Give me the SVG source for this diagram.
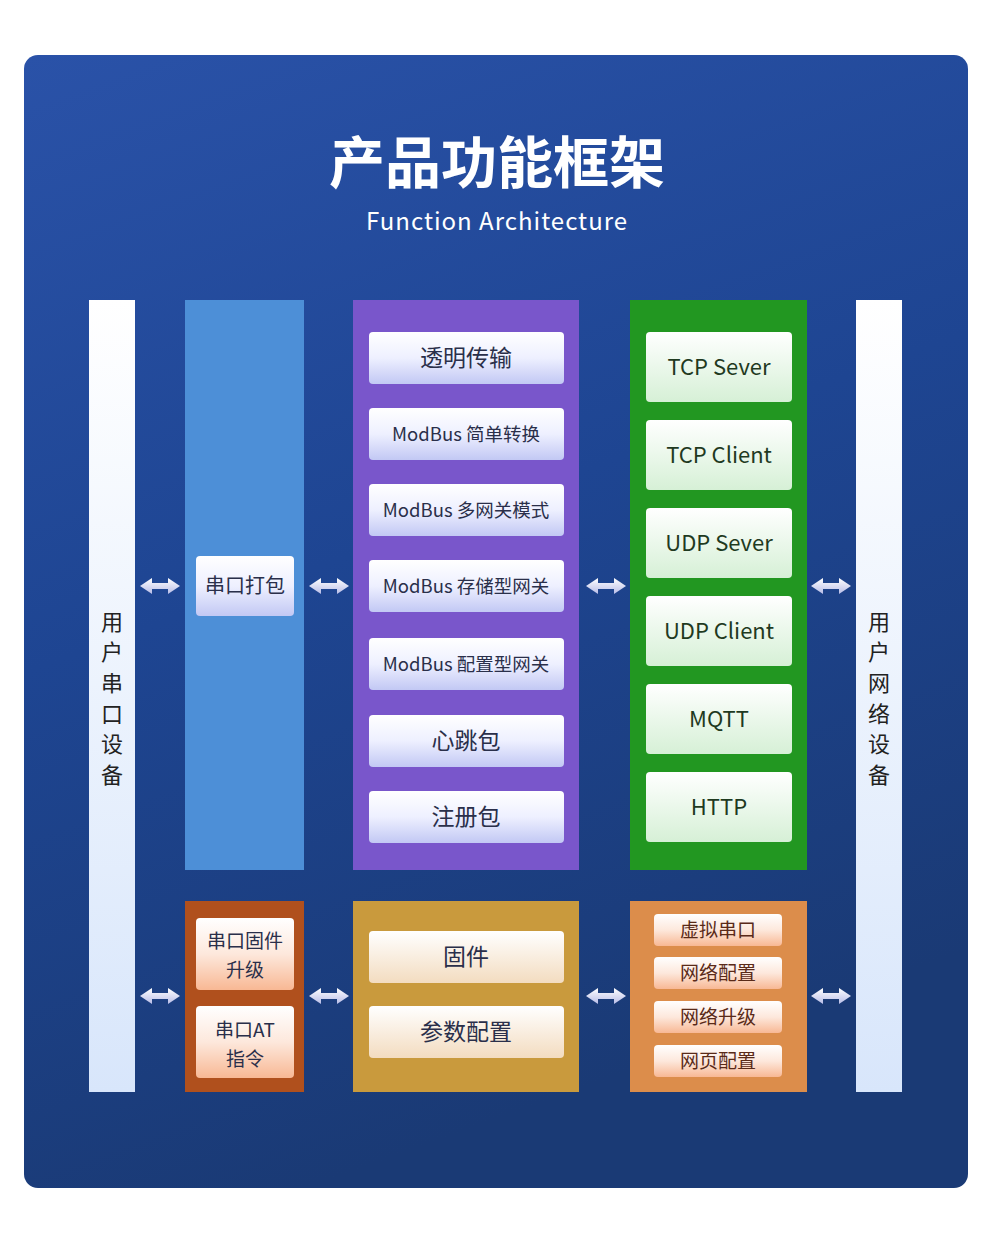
<svg xmlns="http://www.w3.org/2000/svg" width="1000" height="1243" viewBox="0 0 1000 1243">
<defs>
<linearGradient id="bg" x1="0" y1="0" x2="0.3" y2="1"><stop offset="0" stop-color="#2a52a8"/><stop offset="0.5" stop-color="#1e4592"/><stop offset="1" stop-color="#1a3a75"/></linearGradient>
<linearGradient id="side" x1="0" y1="0" x2="0" y2="1"><stop offset="0" stop-color="#ffffff"/><stop offset="1" stop-color="#d8e6fb"/></linearGradient>
<linearGradient id="bw" x1="0" y1="0" x2="0" y2="1"><stop offset="0" stop-color="#ffffff"/><stop offset="0.5" stop-color="#eef0ff"/><stop offset="1" stop-color="#c2c8f4"/></linearGradient>
<linearGradient id="gw" x1="0" y1="0" x2="0" y2="1"><stop offset="0" stop-color="#ffffff"/><stop offset="1" stop-color="#d6f0d6"/></linearGradient>
<linearGradient id="ow" x1="0" y1="0" x2="0" y2="1"><stop offset="0" stop-color="#ffffff"/><stop offset="0.5" stop-color="#fde8dc"/><stop offset="1" stop-color="#f8b894"/></linearGradient>
<linearGradient id="yw" x1="0" y1="0" x2="0" y2="1"><stop offset="0" stop-color="#ffffff"/><stop offset="1" stop-color="#f3dcc0"/></linearGradient>
<linearGradient id="aw" x1="0" y1="0" x2="0" y2="1"><stop offset="0" stop-color="#ffffff"/><stop offset="1" stop-color="#b8bde8"/></linearGradient>
<g id="arr"><path d="M0 0 L12 -8 L12 -3 L28 -3 L28 -8 L40 0 L28 8 L28 3 L12 3 L12 8 Z" fill="url(#aw)"/></g>
</defs>
<style>
text{font-family:"Noto Sans CJK SC","Noto Sans",sans-serif;text-anchor:middle}
.t{fill:#2a2f4a;font-size:20px}
.s{fill:#2a2f4a;font-size:19px}
.m{fill:#2a2f4a;font-size:18.5px}
.tl{fill:#2a2f4a;font-size:23px}
.g{fill:#1f3a1f;font-size:22px}
.o{fill:#5a2a18;font-size:19px}
.v{fill:#222;font-size:22px}
.b{rx:4}
</style>
<rect width="1000" height="1243" fill="#ffffff"/>
<rect x="24" y="55" width="944" height="1133" rx="14" fill="url(#bg)"/>
<text x="497" y="183" font-size="56" font-weight="bold" fill="#fff">产品功能框架</text>
<text x="497" y="230" font-size="24" fill="#fff" letter-spacing="1">Function Architecture</text>

<g id="left-device"><rect x="89" y="300" width="46" height="792" fill="url(#side)"/>
<text class="v" x="112" y="630">用</text><text class="v" x="112" y="660">户</text><text class="v" x="112" y="691">串</text><text class="v" x="112" y="722">口</text><text class="v" x="112" y="752">设</text><text class="v" x="112" y="783">备</text></g>
<g id="right-device"><rect x="856" y="300" width="46" height="792" fill="url(#side)"/>
<text class="v" x="879" y="630">用</text><text class="v" x="879" y="660">户</text><text class="v" x="879" y="691">网</text><text class="v" x="879" y="722">络</text><text class="v" x="879" y="752">设</text><text class="v" x="879" y="783">备</text></g>

<g id="serial-pack"><rect x="185" y="300" width="119" height="570" fill="#4d8fd7"/>
<rect class="b" x="196" y="556" width="98" height="60" fill="url(#bw)"/><text class="t" x="245" y="593">串口打包</text></g>

<g id="protocol"><rect x="353" y="300" width="226" height="570" fill="#7956cb"/>
<rect class="b" x="369" y="332" width="195" height="52" fill="url(#bw)"/><text class="tl" x="466" y="366">透明传输</text>
<rect class="b" x="369" y="408" width="195" height="52" fill="url(#bw)"/><text class="m" x="466" y="441">ModBus 简单转换</text>
<rect class="b" x="369" y="484" width="195" height="52" fill="url(#bw)"/><text class="m" x="466" y="517">ModBus 多网关模式</text>
<rect class="b" x="369" y="560" width="195" height="52" fill="url(#bw)"/><text class="m" x="466" y="593">ModBus 存储型网关</text>
<rect class="b" x="369" y="638" width="195" height="52" fill="url(#bw)"/><text class="m" x="466" y="671">ModBus 配置型网关</text>
<rect class="b" x="369" y="715" width="195" height="52" fill="url(#bw)"/><text class="tl" x="466" y="749">心跳包</text>
<rect class="b" x="369" y="791" width="195" height="52" fill="url(#bw)"/><text class="tl" x="466" y="825">注册包</text></g>

<g id="network"><rect x="630" y="300" width="177" height="570" fill="#229721"/>
<rect class="b" x="646" y="332" width="146" height="70" fill="url(#gw)"/><text class="g" x="719" y="375">TCP Sever</text>
<rect class="b" x="646" y="420" width="146" height="70" fill="url(#gw)"/><text class="g" x="719" y="463">TCP Client</text>
<rect class="b" x="646" y="508" width="146" height="70" fill="url(#gw)"/><text class="g" x="719" y="551">UDP Sever</text>
<rect class="b" x="646" y="596" width="146" height="70" fill="url(#gw)"/><text class="g" x="719" y="639">UDP Client</text>
<rect class="b" x="646" y="684" width="146" height="70" fill="url(#gw)"/><text class="g" x="719" y="727">MQTT</text>
<rect class="b" x="646" y="772" width="146" height="70" fill="url(#gw)"/><text class="g" x="719" y="815">HTTP</text></g>

<g id="serial-upgrade"><rect x="185" y="901" width="119" height="191" fill="#b0501d"/>
<rect class="b" x="196" y="918" width="98" height="72" fill="url(#ow)"/><text class="s" x="245" y="948">串口固件</text><text class="s" x="245" y="977">升级</text>
<rect class="b" x="196" y="1006" width="98" height="72" fill="url(#ow)"/><text class="s" x="245" y="1037">串口AT</text><text class="s" x="245" y="1066">指令</text></g>

<g id="firmware"><rect x="353" y="901" width="226" height="191" fill="#c99a3d"/>
<rect class="b" x="369" y="931" width="195" height="52" fill="url(#yw)"/><text class="tl" x="466" y="965">固件</text>
<rect class="b" x="369" y="1006" width="195" height="52" fill="url(#yw)"/><text class="tl" x="466" y="1040">参数配置</text></g>

<g id="config"><rect x="630" y="901" width="177" height="191" fill="#dc8d4b"/>
<rect class="b" x="654" y="914" width="128" height="32" fill="url(#ow)"/><text class="o" x="718" y="937">虚拟串口</text>
<rect class="b" x="654" y="957" width="128" height="32" fill="url(#ow)"/><text class="o" x="718" y="980">网络配置</text>
<rect class="b" x="654" y="1001" width="128" height="32" fill="url(#ow)"/><text class="o" x="718" y="1024">网络升级</text>
<rect class="b" x="654" y="1045" width="128" height="32" fill="url(#ow)"/><text class="o" x="718" y="1068">网页配置</text></g>

<g id="connectors">
<use href="#arr" x="140" y="586"/><use href="#arr" x="309" y="586"/><use href="#arr" x="586" y="586"/><use href="#arr" x="811" y="586"/>
<use href="#arr" x="140" y="996"/><use href="#arr" x="309" y="996"/><use href="#arr" x="586" y="996"/><use href="#arr" x="811" y="996"/>
</g>
</svg>
